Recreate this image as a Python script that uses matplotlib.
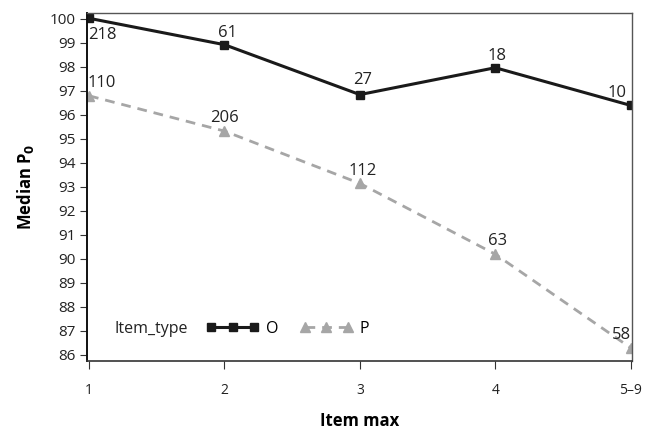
import matplotlib
import numpy as np
from matplotlib import pyplot as plt

matplotlib.use("Agg")
plt.rcParams['font.family'] = ['Open Sans', 'DejaVu Sans']

# Data
x_labels = ["1", "2", "3", "4", "5\u20139"]
o_median = [100.03, 98.93, 96.85, 97.97, 96.4]
p_median = [96.8, 95.33, 93.15, 90.2, 86.3]
o_counts = [218, 61, 27, 18, 10]
p_counts = [110, 206, 112, 63, 58]

x = np.arange(1, len(x_labels) + 1)

fig = plt.figure(figsize=(6.51, 4.30), dpi=100)
ax = fig.add_axes([87 / 651, 69 / 430, 545 / 651, 348 / 430])

ax.plot(x, o_median, color='#1a1a1a', lw=2.2, marker='s', ms=6,
        label='O')
ax.plot(x, p_median, color='#a6a6a6', lw=2.0, ls=(0, (3.5, 2.5)),
        marker='^', ms=7.5, label='P')

# Count labels (offsets in points)
o_offsets = [(-1, -6, 'left', 'top'), (2, 3, 'center', 'bottom'),
             (2, 5, 'center', 'bottom'), (1, 3, 'center', 'bottom'),
             (-3, 3, 'right', 'bottom')]
p_offsets = [(-1, 3.5, 'left', 'bottom'), (0, 3.5, 'center', 'bottom'),
             (2, 3.5, 'center', 'bottom'), (2, 3.5, 'center', 'bottom'),
             (0, 3.5, 'right', 'bottom')]
for xi, yi, c, (dx, dy, ha, va) in zip(x, o_median, o_counts, o_offsets):
    ax.annotate(str(c), (xi, yi), xytext=(dx, dy), textcoords='offset points',
                ha=ha, va=va, fontsize=12, color='#222222')
for xi, yi, c, (dx, dy, ha, va) in zip(x, p_median, p_counts, p_offsets):
    ax.annotate(str(c), (xi, yi), xytext=(dx, dy), textcoords='offset points',
                ha=ha, va=va, fontsize=12, color='#222222')

ax.set_xlim(0.985, 5.01)
ax.set_ylim(85.75, 100.25)
ax.set_xticks(x)
ax.set_xticklabels(x_labels)
ax.set_yticks(np.arange(86, 101, 1))

ax.tick_params(axis='x', direction='out', length=6, pad=10, labelsize=10,
               color='#333333', labelcolor='#222222')
ax.tick_params(axis='y', direction='out', length=5, pad=3, labelsize=11,
               color='#333333', labelcolor='#222222')

for side in ['top', 'right']:
    ax.spines[side].set_color('#555555')
    ax.spines[side].set_linewidth(1.0)
ax.spines['left'].set_color('#111111')
ax.spines['left'].set_linewidth(1.4)
ax.spines['bottom'].set_color('#333333')
ax.spines['bottom'].set_linewidth(1.2)

ax.set_xlabel("Item max", fontsize=12, fontweight='bold')
ax.xaxis.set_label_coords(0.5, -0.146)
ax.set_ylabel("Median P$_\\mathbf{0}$", fontsize=12, fontweight='bold',
              labelpad=10)

# Legend with inline title
ax.text(0.05, 0.092, "Item_type", transform=ax.transAxes, fontsize=11.5,
        va='center', ha='left', color='#222222')
ax.legend(loc='center left', bbox_to_anchor=(0.193, 0.092), ncol=2,
          frameon=False, numpoints=3, handlelength=3.25, fontsize=11.5,
          columnspacing=1.4, handletextpad=0.45, markerscale=0.9)

fig.savefig("out.png", dpi=100)
